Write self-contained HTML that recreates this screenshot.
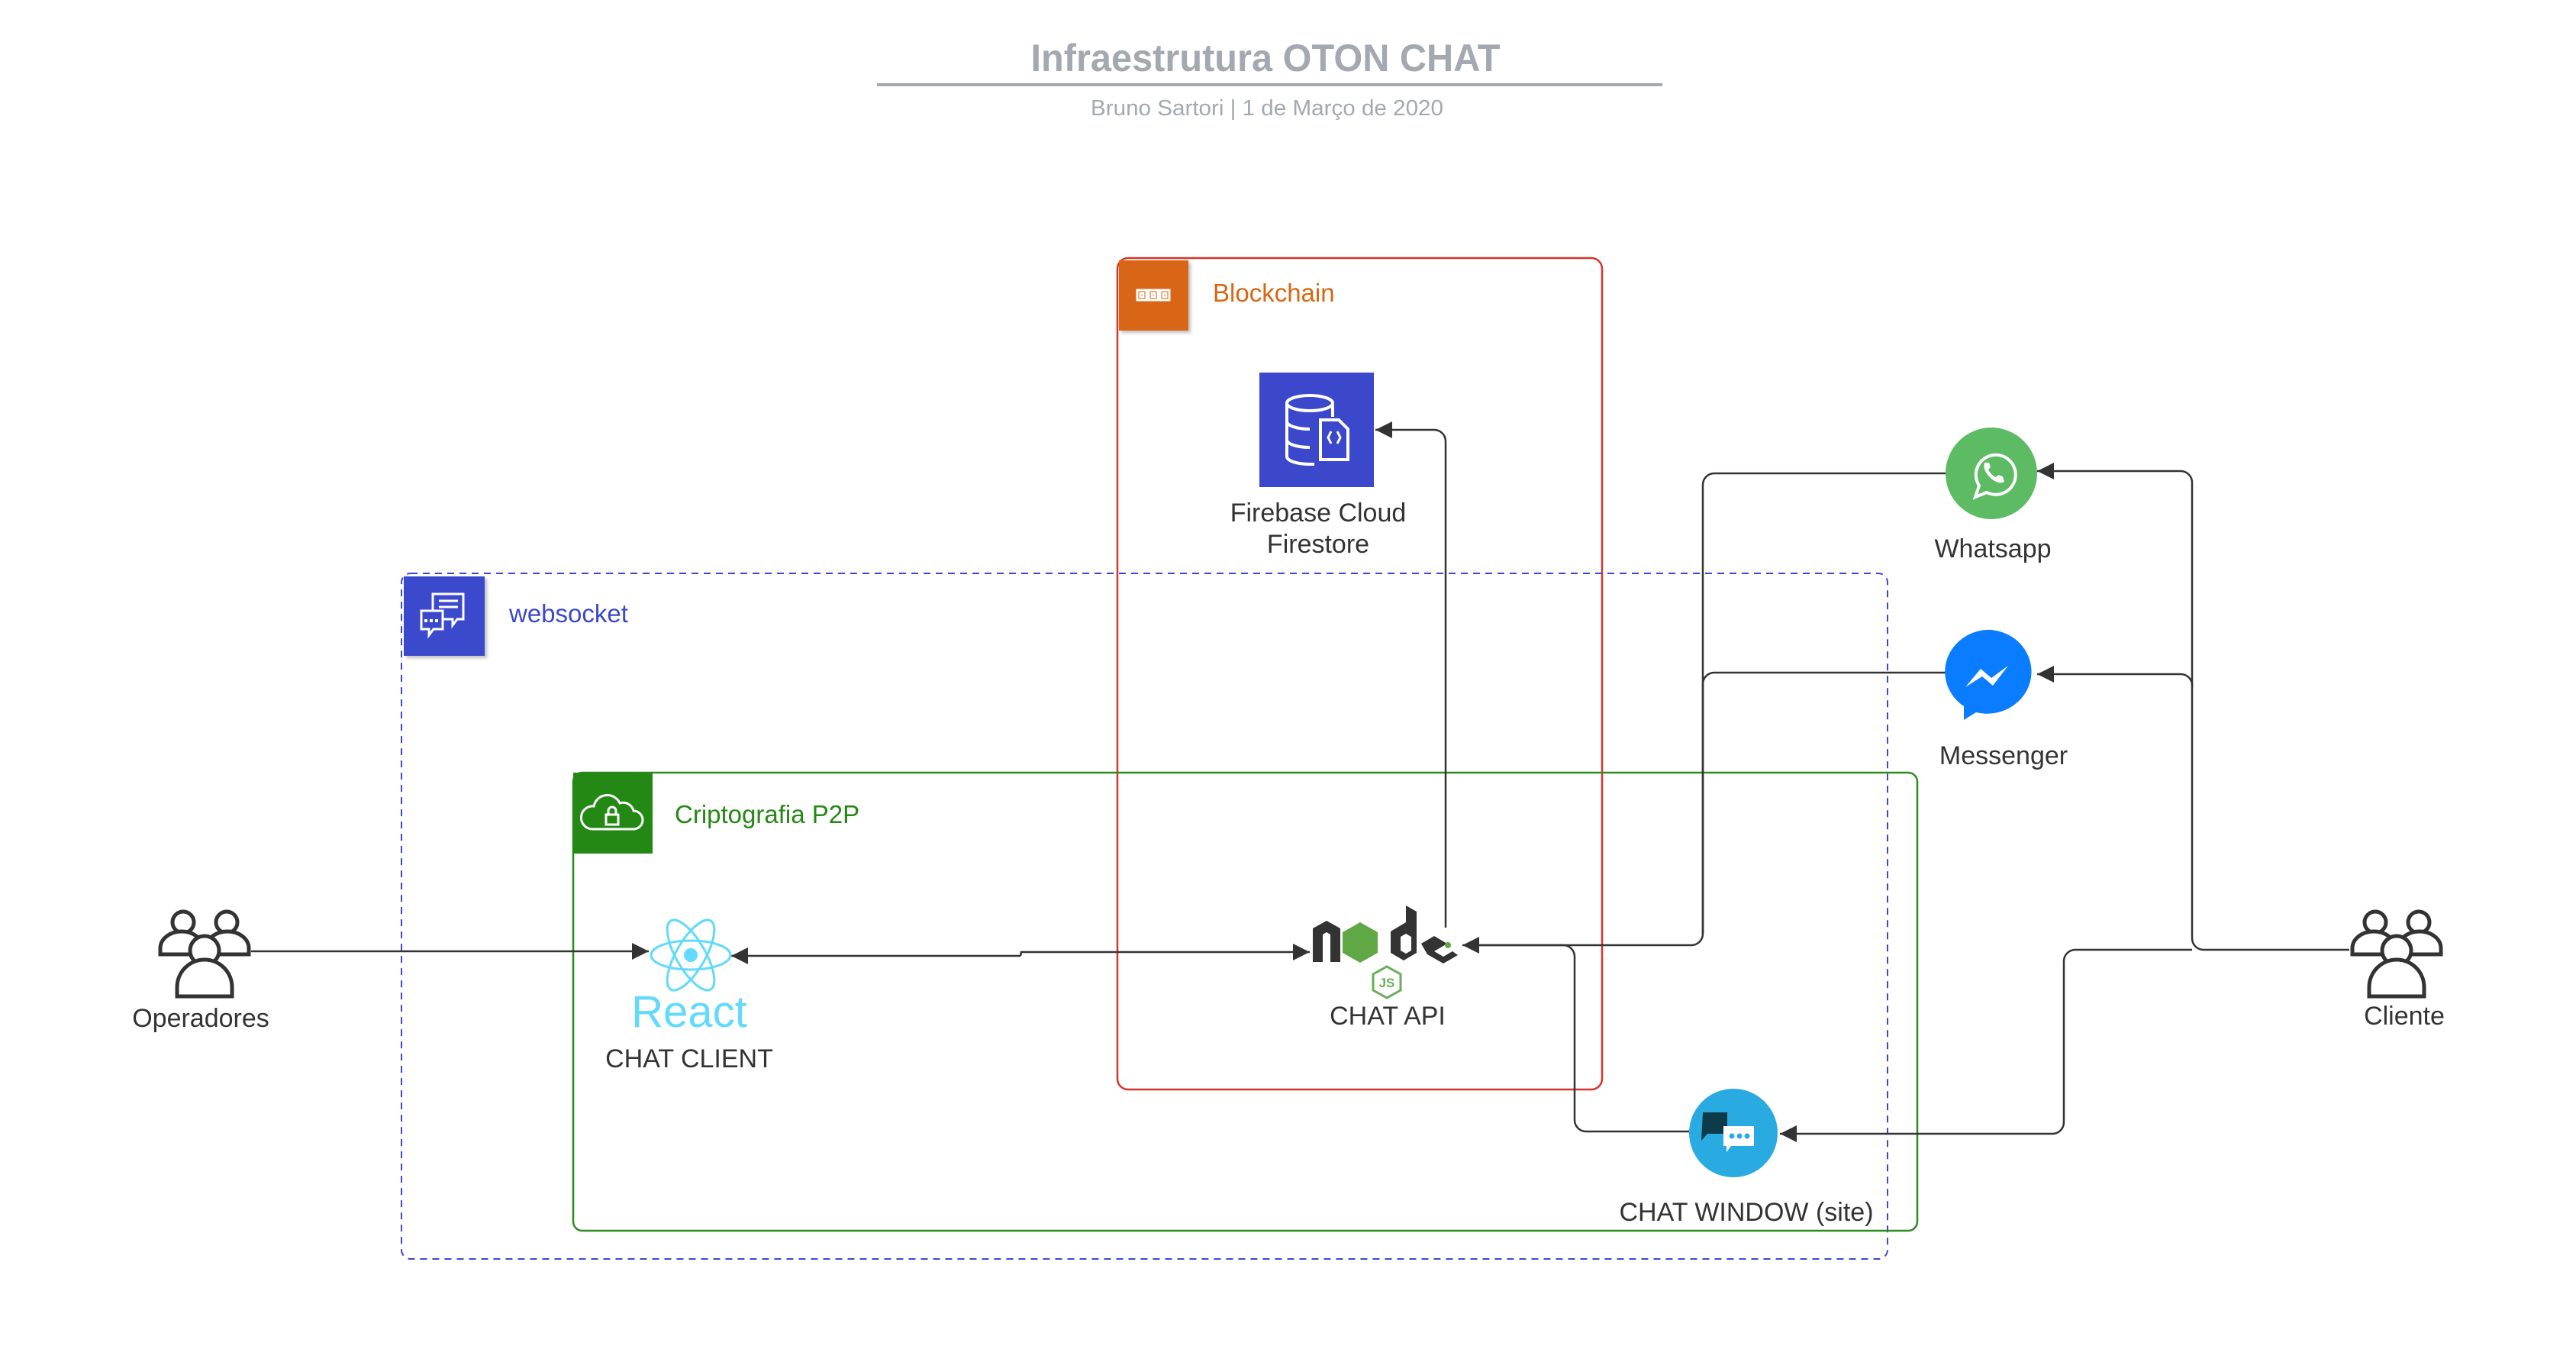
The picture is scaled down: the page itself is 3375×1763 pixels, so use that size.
<!DOCTYPE html>
<html><head><meta charset="utf-8"><style>
html,body{margin:0;padding:0;background:#fff;}
svg{display:block;}
text{font-family:"Liberation Sans",Arial,sans-serif;}
</style></head><body>
<svg width="3375" height="1763" viewBox="0 0 3375 1763" xmlns="http://www.w3.org/2000/svg">
<defs>
<marker id="ar" viewBox="0 0 10 10" refX="10" refY="5" markerWidth="26" markerHeight="22" markerUnits="userSpaceOnUse" orient="auto"><path d="M0,0 L10,5 L0,10 Z" fill="#333"/></marker>
<filter id="sh" x="-10%" y="-10%" width="130%" height="130%"><feDropShadow dx="3" dy="3" stdDeviation="2" flood-color="#000" flood-opacity="0.25"/></filter>
</defs>
<rect width="3375" height="1763" fill="#fff"/>

<text x="1658" y="93" text-anchor="middle" font-size="50" font-weight="bold" fill="#a3a8b1" textLength="615" lengthAdjust="spacingAndGlyphs">Infraestrutura OTON CHAT</text>
<line x1="1149" y1="111" x2="2178" y2="111" stroke="#a3a8b1" stroke-width="4"/>
<text x="1660" y="151" text-anchor="middle" font-size="29" fill="#a3a8b1" textLength="462" lengthAdjust="spacingAndGlyphs">Bruno Sartori  |  1 de Março de 2020</text>

<rect x="1464" y="338" width="635" height="1089" rx="14" fill="none" stroke="#d8332a" stroke-width="2.5"/>
<rect x="1466" y="341" width="91" height="92" fill="#d86613" filter="url(#sh)"/>
<g fill="none" stroke="#fff" stroke-width="3">
<rect x="1490" y="380" width="12" height="13"/><rect x="1505" y="380" width="12" height="13"/><rect x="1520" y="380" width="12" height="13"/>
<rect x="1494" y="384" width="4" height="5"/><rect x="1509" y="384" width="4" height="5"/><rect x="1524" y="384" width="4" height="5"/>
</g>
<text x="1589" y="395" font-size="33" fill="#d86613">Blockchain</text>

<rect x="526" y="751" width="1947" height="898" rx="12" fill="none" stroke="#3b48cc" stroke-width="2" stroke-dasharray="9,7"/>
<rect x="529" y="755" width="106" height="104" fill="#3b48cc" filter="url(#sh)"/>
<g fill="none" stroke="#fff" stroke-width="3">
<path d="M567,778 h40 v33 h-8 l-6,8 v-8 h-26 z"/>
<path d="M552,800 h28 v24 h-12 l-6,8 v-8 h-10 z" fill="#3b48cc"/>
<line x1="575" y1="787" x2="600" y2="787"/><line x1="575" y1="795" x2="600" y2="795"/>
</g>
<g fill="#fff"><rect x="556" y="811" width="4" height="4"/><rect x="563" y="811" width="4" height="4"/><rect x="570" y="811" width="4" height="4"/></g>
<text x="667" y="815" font-size="33" fill="#3b48cc">websocket</text>

<rect x="751" y="1012" width="1761" height="600" rx="12" fill="none" stroke="#2a8c1c" stroke-width="2.5"/>
<rect x="751" y="1012" width="104" height="106" fill="#248814"/>
<path d="M775,1086 h55 a12,12 0 0 0 0,-24 a14,14 0 0 0 -18,-10 a18,18 0 0 0 -34,4 a13,13 0 0 0 -3,30 z" fill="none" stroke="#fff" stroke-width="3"/>
<rect x="794" y="1067" width="16" height="13" fill="none" stroke="#fff" stroke-width="3"/>
<path d="M797,1067 v-5 a5,5 0 0 1 10,0 v5" fill="none" stroke="#fff" stroke-width="3"/>
<text x="884" y="1078" font-size="33" fill="#248814">Criptografia P2P</text>

<rect x="1650" y="488" width="150" height="150" fill="#3b48cc"/>
<g fill="none" stroke="#fff" stroke-width="4">
<ellipse cx="1716" cy="528" rx="30" ry="10"/>
<path d="M1686,528 v70 a30,10 0 0 0 30,10 h6"/>
<path d="M1686,552 a30,10 0 0 0 30,10 M1686,576 a30,10 0 0 0 30,10"/>
<path d="M1746,528 v18"/>
<path d="M1730,550 h24 l12,12 v40 h-36 z" fill="#3b48cc"/>
<path d="M1744,565 l-4,8 l4,8 M1752,565 l4,8 l-4,8" stroke-width="3"/>
</g>
<text x="1727" y="683" text-anchor="middle" font-size="34" fill="#333">Firebase Cloud</text>
<text x="1727" y="724" text-anchor="middle" font-size="34" fill="#333">Firestore</text>

<g fill="none" stroke="#333" stroke-width="2.5">
<line x1="329" y1="1246" x2="850" y2="1246" marker-end="url(#ar)"/>
<path d="M1337,1252 L1338,1247 H1716" marker-end="url(#ar)"/>
<line x1="1337" y1="1252" x2="958" y2="1252" marker-end="url(#ar)"/>
<path d="M1894,1215 V578 a15,15 0 0 0 -15,-15 H1802" marker-end="url(#ar)"/>
<path d="M2551,620 H2246 a15,15 0 0 0 -15,15 V1223 a15,15 0 0 1 -15,15 H1916" marker-end="url(#ar)"/>
<path d="M2551,881 H2246 a15,15 0 0 0 -15,15 V1223"/>
<path d="M1919,1238 H2048 a15,15 0 0 1 15,15 V1467 a15,15 0 0 0 15,15 H2213"/>
<path d="M3078,1244 H2887 a15,15 0 0 1 -15,-15 V632 a15,15 0 0 0 -15,-15 H2669" marker-end="url(#ar)"/>
<path d="M2872,900 a15,15 0 0 0 -15,-17 H2669" marker-end="url(#ar)"/>
<path d="M2872,1244 H2719 a15,15 0 0 0 -15,15 V1470 a15,15 0 0 1 -15,15 H2332" marker-end="url(#ar)"/>
</g>

<g fill="none" stroke="#61dafb" stroke-width="3">
<ellipse cx="905" cy="1251" rx="52" ry="19"/>
<ellipse cx="905" cy="1251" rx="52" ry="19" transform="rotate(60 905 1251)"/>
<ellipse cx="905" cy="1251" rx="52" ry="19" transform="rotate(-60 905 1251)"/>
</g>
<circle cx="905" cy="1251" r="9" fill="#61dafb"/>
<text x="903" y="1345" text-anchor="middle" font-size="58" fill="#61dafb">React</text>
<text x="903" y="1398" text-anchor="middle" font-size="34" fill="#333">CHAT CLIENT</text>

<g fill="#333">
<path d="M1720,1260 v-44 l18,-10 l18,10 v44 h-13 v-36 l-5,-3 l-5,3 v36 z"/>
<path d="M1822,1248 v-28 l20,-12 v-22 l14,8 v54 l-17,10 l-17,-10 z M1835,1245 l7,4 l7,-4 v-18 l-7,-4 l-7,4 z"/>
<path d="M1862,1236 l17,-10 l17,10 l-17,10 l12,7 l12,-7 l7,5 l-19,11 l-21,-12 z"/>
</g>
<path d="M1782,1208 l23,13 v27 l-23,13 l-23,-13 v-27 z" fill="#5fa845"/>
<circle cx="1897" cy="1238" r="4" fill="#5fa845"/>
<path d="M1817,1266 l18,10 v21 l-18,10 l-18,-10 v-21 z" fill="none" stroke="#6bad5a" stroke-width="3"/>
<text x="1817" y="1293" text-anchor="middle" font-size="17" font-weight="bold" fill="#6bad5a">JS</text>
<text x="1818" y="1342" text-anchor="middle" font-size="34" fill="#333">CHAT API</text>

<circle cx="2609" cy="620" r="60" fill="#5cbb63"/>
<path d="M2588,651 l5,-15 a26,26 0 1 1 10,9 z" fill="none" stroke="#fff" stroke-width="4"/>
<path d="M2600,606 q-3,10 9,21 q10,8 17,4 l-2,-7 l-6,-2 l-3,3 q-7,-3 -10,-10 l3,-3 l-2,-6 z" fill="#fff"/>
<text x="2611" y="730" text-anchor="middle" font-size="34" fill="#333">Whatsapp</text>

<path d="M2609,825 a58,55 0 1 1 -20,108 l-16,10 v-18 a58,55 0 0 1 36,-100 z" fill="#0a7cff"/>
<path d="M2575,900 l20,-24 l14,12 l22,-16 l-20,26 l-14,-12 z" fill="#fff"/>
<text x="2625" y="1001" text-anchor="middle" font-size="34" fill="#333">Messenger</text>

<circle cx="2271" cy="1484" r="58" fill="#29abe2"/>
<path d="M2231,1457 h32 v28 h-26 l-8,9 z" fill="#0d3b4a"/>
<path d="M2258,1475 h40 v26 h-30 l-6,8 v-8 h-4 z" fill="#fff"/>
<g fill="#29abe2"><circle cx="2269" cy="1488" r="3.5"/><circle cx="2279" cy="1488" r="3.5"/><circle cx="2289" cy="1488" r="3.5"/></g>
<text x="2288" y="1599" text-anchor="middle" font-size="34" fill="#333">CHAT WINDOW (site)</text>

<g id="ppl" fill="#fff" stroke="#333" stroke-width="5">
<circle cx="240" cy="1208" r="14"/>
<path d="M210,1250 v-8 a28,22 0 0 1 56,0 v8 z"/>
<circle cx="297" cy="1208" r="14"/>
<path d="M270,1250 v-8 a28,22 0 0 1 56,0 v8 z"/>
<circle cx="268" cy="1245" r="19"/>
<path d="M232,1305 v-12 a36,36 0 0 1 72,0 v12 z"/>
</g>
<text x="263" y="1345" text-anchor="middle" font-size="34" fill="#333">Operadores</text>
<use href="#ppl" transform="translate(2872,0)"/>
<text x="3150" y="1342" text-anchor="middle" font-size="34" fill="#333">Cliente</text>
</svg>
</body></html>
